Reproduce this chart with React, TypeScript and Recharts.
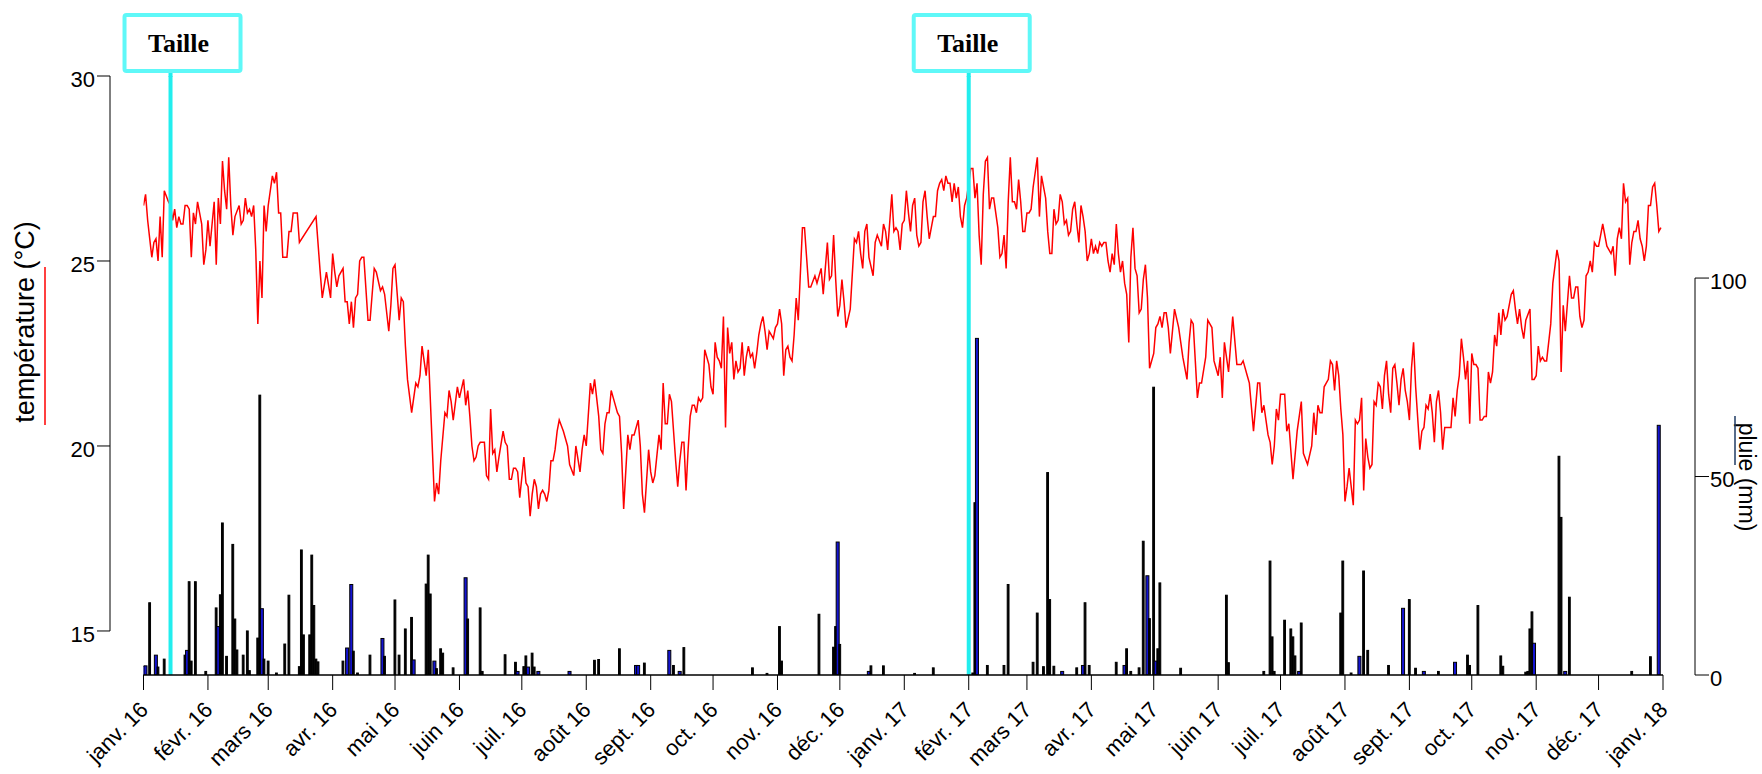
import { ComposedChart, Line, Bar, XAxis, YAxis, ReferenceLine } from 'recharts';

// x values are days counted from 1 Jan 2016
const monthLabels = [
  'janv. 16', 'févr. 16', 'mars 16', 'avr. 16', 'mai 16', 'juin 16', 'juil. 16', 'août 16',
  'sept. 16', 'oct. 16', 'nov. 16', 'déc. 16', 'janv. 17', 'févr. 17', 'mars 17', 'avr. 17',
  'mai 17', 'juin 17', 'juil. 17', 'août 17', 'sept. 17', 'oct. 17', 'nov. 17', 'déc. 17', 'janv. 18',
];
const monthTicks = monthLabels.map((_, i) => Math.round((Date.UTC(2016, i, 1) - Date.UTC(2016, 0, 1)) / 86400000));

const tempTicks = [15, 20, 25, 30];
const rainTicks = [0, 50, 100];

// pruning dates ("Taille")
const tailleDays = [13, 397];

// daily mean temperature (°C): [day, value]
const temperature: [number, number][] = [
  [0, 26.5], [1, 26.8], [2, 26.1], [3, 25.6], [4, 25.1], [5, 25.5], [6, 25.6], [7, 25.0], [8, 26.2], [9, 25.1],
  [10, 26.9], [12, 26.6], [13, 26.5], [14, 26.1], [15, 26.4], [16, 25.9], [17, 26.2], [18, 26.0], [19, 26.0], [20, 26.5],
  [21, 26.5], [22, 26.4], [23, 25.1], [24, 26.3], [25, 26.0], [26, 26.6], [28, 26.0], [29, 24.9], [30, 25.3], [31, 26.1],
  [32, 25.4], [34, 26.6], [35, 24.9], [36, 26.7], [37, 26.0], [38, 27.7], [39, 26.9], [40, 26.4], [41, 27.8], [42, 26.5],
  [43, 25.7], [44, 26.2], [46, 26.5], [47, 26.0], [48, 26.1], [49, 26.7], [50, 26.3], [51, 26.4], [52, 26.2], [53, 26.5],
  [54, 25.3], [55, 23.3], [56, 25.0], [57, 24.0], [58, 26.5], [59, 25.8], [60, 26.5], [62, 27.3], [63, 27.1], [64, 27.4],
  [65, 26.3], [66, 26.3], [67, 25.1], [69, 25.1], [70, 25.8], [71, 25.8], [72, 26.3], [73, 26.3], [74, 26.3], [75, 25.5],
  [83, 26.2], [85, 24.7], [86, 24.0], [88, 24.7], [90, 24.0], [91, 25.2], [92, 24.7], [93, 24.3], [94, 24.6], [96, 24.8],
  [97, 23.9], [98, 23.9], [99, 23.3], [100, 23.9], [101, 23.2], [102, 24.0], [103, 24.1], [104, 25.0], [105, 25.1], [106, 25.1],
  [108, 23.4], [109, 23.4], [110, 24.1], [111, 24.8], [112, 24.7], [114, 24.2], [115, 24.3], [116, 24.1], [118, 23.1], [119, 23.8],
  [120, 24.8], [121, 24.9], [123, 23.4], [124, 24.0], [125, 23.9], [126, 22.7], [127, 21.8], [129, 20.9], [131, 21.7], [132, 21.6],
  [133, 21.9], [134, 22.7], [136, 21.9], [137, 22.6], [140, 18.5], [141, 19.0], [142, 18.7], [143, 19.6], [145, 20.9], [146, 20.8],
  [147, 21.5], [148, 21.2], [149, 20.7], [151, 21.6], [152, 21.3], [154, 21.8], [155, 21.1], [156, 21.5], [157, 20.8], [158, 20.0],
  [159, 19.6], [160, 19.7], [161, 20.0], [162, 20.1], [164, 20.1], [165, 19.2], [166, 19.1], [167, 21.0], [168, 19.8], [169, 19.9],
  [170, 19.3], [171, 19.7], [173, 20.4], [174, 20.1], [175, 20.0], [176, 19.1], [177, 19.1], [178, 19.4], [179, 19.4], [180, 19.3],
  [181, 18.6], [183, 19.7], [184, 19.0], [185, 18.9], [186, 18.1], [187, 18.7], [188, 19.1], [189, 18.9], [190, 18.3], [191, 18.7],
  [192, 18.8], [193, 18.7], [194, 18.5], [195, 18.8], [196, 19.6], [197, 19.6], [198, 19.9], [199, 20.4], [200, 20.7], [202, 20.4],
  [204, 20.0], [205, 19.5], [207, 19.2], [208, 20.0], [210, 19.3], [211, 19.9], [212, 20.3], [213, 20.0], [215, 21.7], [216, 21.4],
  [217, 21.8], [218, 21.3], [219, 20.8], [220, 19.9], [221, 19.8], [222, 20.6], [223, 20.9], [224, 20.9], [225, 21.5], [226, 21.3],
  [228, 20.9], [229, 20.8], [230, 19.8], [231, 18.3], [233, 20.3], [234, 19.9], [235, 20.3], [236, 20.3], [238, 20.7], [239, 20.0],
  [240, 18.7], [241, 18.2], [243, 19.9], [244, 19.3], [245, 19.0], [246, 19.2], [248, 20.3], [249, 19.9], [250, 21.7], [251, 20.6],
  [252, 20.6], [253, 21.4], [254, 21.2], [256, 19.6], [257, 18.9], [258, 19.6], [259, 20.1], [260, 20.1], [261, 18.8], [262, 19.9],
  [263, 20.8], [264, 21.1], [265, 21.1], [266, 20.9], [267, 21.3], [268, 21.2], [269, 21.3], [270, 22.6], [272, 22.2], [273, 21.6],
  [274, 21.4], [275, 22.8], [276, 22.4], [277, 22.3], [278, 22.1], [279, 23.5], [280, 20.5], [281, 23.2], [282, 22.5], [283, 22.8],
  [284, 21.8], [285, 22.3], [286, 22.0], [287, 22.1], [288, 22.8], [289, 21.9], [290, 22.4], [291, 22.7], [292, 22.4], [293, 22.5],
  [294, 22.1], [295, 22.5], [296, 23.0], [297, 23.3], [298, 23.5], [299, 23.1], [300, 22.6], [301, 23.1], [302, 23.0], [303, 22.9],
  [304, 23.2], [305, 23.3], [306, 23.7], [307, 23.3], [308, 21.9], [309, 22.6], [310, 22.7], [311, 22.4], [312, 22.3], [313, 23.0],
  [314, 24.0], [315, 23.4], [317, 25.9], [318, 25.9], [319, 25.1], [320, 24.3], [321, 24.3], [323, 24.6], [324, 24.4], [326, 24.8],
  [327, 24.1], [328, 24.8], [329, 25.5], [330, 24.5], [331, 24.6], [332, 25.7], [333, 24.5], [334, 23.5], [335, 23.8], [336, 24.5],
  [337, 23.9], [338, 23.2], [340, 23.7], [342, 25.6], [343, 25.5], [344, 25.8], [345, 25.2], [346, 24.8], [347, 25.8], [348, 26.0],
  [349, 25.1], [351, 24.6], [352, 25.5], [353, 25.7], [355, 25.4], [356, 26.0], [357, 25.8], [358, 25.3], [360, 26.8], [361, 25.8],
  [362, 25.9], [363, 25.8], [364, 25.3], [365, 26.0], [366, 26.1], [367, 26.9], [368, 26.3], [369, 25.8], [370, 26.5], [371, 26.7],
  [372, 25.7], [373, 25.4], [374, 25.5], [375, 26.6], [376, 26.9], [377, 26.2], [378, 25.6], [379, 25.9], [380, 26.2], [381, 26.2],
  [382, 26.9], [383, 27.1], [384, 27.2], [385, 26.9], [386, 27.3], [387, 27.1], [388, 27.1], [389, 26.6], [390, 27.1], [391, 26.7],
  [392, 27.0], [393, 26.2], [394, 25.9], [395, 26.5], [396, 26.7], [398, 27.5], [399, 27.5], [400, 26.7], [401, 27.1], [402, 25.7],
  [403, 24.9], [404, 26.8], [405, 27.7], [406, 27.8], [407, 26.4], [408, 26.7], [409, 26.7], [411, 25.9], [412, 25.1], [413, 25.2],
  [414, 25.7], [415, 24.8], [416, 26.6], [417, 27.8], [418, 26.6], [419, 26.6], [420, 26.4], [421, 27.2], [422, 26.6], [423, 25.8],
  [424, 25.8], [425, 26.3], [426, 26.3], [427, 26.4], [428, 27.0], [430, 27.8], [431, 26.2], [432, 27.3], [434, 26.7], [435, 25.8],
  [436, 25.2], [437, 25.2], [438, 26.4], [439, 26.0], [440, 26.1], [441, 26.8], [442, 26.6], [443, 26.0], [444, 26.1], [445, 25.7],
  [446, 25.8], [447, 26.4], [448, 26.6], [449, 26.0], [450, 25.5], [451, 26.5], [452, 26.2], [453, 25.8], [454, 25.0], [455, 25.2],
  [456, 25.6], [457, 25.2], [458, 25.4], [459, 25.2], [460, 25.5], [461, 25.4], [462, 25.5], [463, 25.5], [464, 25.0], [465, 24.7],
  [466, 25.2], [467, 24.9], [468, 26.0], [469, 25.2], [470, 24.7], [471, 25.0], [472, 24.4], [473, 24.1], [474, 22.8], [475, 25.1],
  [476, 25.9], [477, 24.8], [478, 24.6], [479, 23.6], [480, 23.7], [481, 24.5], [482, 24.9], [483, 24.0], [484, 22.1], [486, 22.5],
  [487, 23.2], [488, 23.3], [489, 23.5], [490, 23.2], [491, 23.6], [492, 23.6], [493, 23.2], [494, 22.5], [496, 23.7], [498, 23.2],
  [500, 22.4], [502, 21.8], [503, 22.8], [504, 23.4], [505, 23.3], [506, 22.3], [507, 21.3], [508, 21.7], [509, 21.7], [511, 22.4],
  [512, 23.4], [513, 23.3], [514, 23.2], [515, 22.3], [516, 22.1], [517, 21.9], [518, 22.4], [519, 21.3], [520, 22.8], [521, 22.4],
  [522, 22.0], [524, 23.5], [526, 22.2], [528, 22.2], [529, 22.3], [531, 21.9], [532, 21.7], [534, 20.4], [536, 21.7], [537, 21.7],
  [538, 20.9], [539, 21.1], [541, 20.3], [542, 20.1], [543, 19.5], [544, 20.0], [545, 21.0], [546, 20.7], [547, 21.4], [549, 21.4],
  [550, 20.4], [551, 20.6], [553, 19.1], [555, 20.4], [557, 21.2], [558, 19.8], [560, 19.5], [562, 20.0], [563, 20.9], [564, 20.3],
  [565, 21.1], [566, 20.9], [567, 20.9], [568, 21.6], [570, 21.8], [571, 22.3], [572, 22.2], [573, 21.5], [574, 22.3], [575, 21.9],
  [576, 21.0], [577, 20.3], [578, 18.5], [579, 18.9], [580, 19.4], [582, 18.4], [583, 20.7], [584, 20.6], [585, 20.7], [586, 21.3],
  [587, 18.8], [588, 20.2], [589, 19.7], [590, 19.4], [591, 19.5], [592, 21.2], [593, 21.1], [594, 21.7], [595, 21.6], [596, 21.0],
  [597, 21.9], [598, 22.3], [599, 21.4], [600, 20.9], [601, 22.1], [602, 22.2], [603, 21.7], [604, 21.1], [605, 21.8], [606, 22.1],
  [607, 21.5], [608, 21.2], [609, 20.7], [610, 22.1], [611, 22.8], [612, 21.6], [614, 19.9], [615, 20.4], [616, 20.5], [617, 21.1],
  [618, 21.0], [619, 21.4], [620, 20.9], [621, 20.1], [622, 21.2], [623, 21.5], [624, 20.9], [625, 19.9], [626, 20.5], [627, 20.5],
  [628, 20.5], [629, 20.5], [630, 21.3], [631, 20.8], [632, 21.5], [633, 21.9], [634, 22.9], [635, 22.4], [636, 21.8], [637, 22.3],
  [638, 20.6], [639, 22.5], [640, 22.2], [641, 22.2], [642, 22.1], [643, 20.7], [644, 20.7], [645, 20.8], [646, 20.8], [647, 22.0],
  [648, 21.7], [649, 22.0], [650, 23.0], [651, 22.7], [652, 23.6], [653, 23.0], [654, 23.7], [655, 23.4], [656, 23.5], [658, 24.1],
  [659, 24.2], [660, 23.7], [661, 23.3], [662, 23.7], [663, 23.2], [664, 22.9], [665, 23.4], [667, 23.7], [668, 21.8], [669, 21.8],
  [670, 21.9], [671, 22.7], [672, 22.3], [673, 22.4], [674, 22.3], [675, 22.3], [677, 23.3], [678, 24.4], [680, 25.3], [681, 25.0],
  [682, 22.0], [683, 23.8], [684, 23.1], [686, 24.6], [687, 24.0], [688, 24.0], [689, 24.3], [690, 24.3], [691, 23.5], [692, 23.2],
  [693, 23.4], [694, 24.6], [695, 24.7], [696, 25.0], [697, 24.7], [698, 25.5], [699, 25.4], [700, 25.4], [701, 25.7], [702, 26.0],
  [704, 25.4], [705, 25.3], [706, 25.2], [707, 25.4], [708, 24.6], [709, 25.6], [710, 25.9], [711, 25.6], [712, 27.1], [713, 26.6],
  [714, 26.7], [715, 24.9], [716, 25.5], [717, 25.8], [718, 25.8], [719, 26.1], [720, 25.6], [721, 25.4], [722, 25.0], [723, 25.4],
  [724, 26.5], [725, 26.5], [726, 27.0], [727, 27.1], [728, 26.5], [729, 25.8], [730, 25.9],
];

// daily rainfall (mm): [day, value]
const rain: [number, number][] = [
  [0, 2.2], [1, 2.3], [3, 18.2], [6, 5.0], [7, 2.0], [10, 4.0], [13, 0.4], [20, 5.0], [21, 6.2], [22, 23.5],
  [23, 3.5], [25, 23.5], [30, 0.9], [35, 16.9], [36, 12.2], [37, 20.2], [38, 38.3], [40, 4.7], [43, 32.9], [44, 14.1],
  [45, 6.3], [48, 5.0], [50, 11.1], [51, 1.1], [55, 9.3], [56, 70.5], [57, 16.7], [58, 4.0], [60, 3.5], [64, 0.5],
  [68, 7.8], [70, 20.1], [75, 2.1], [76, 31.5], [77, 10.1], [80, 10.1], [81, 30.2], [82, 17.5], [83, 4.0], [84, 3.3],
  [96, 3.5], [98, 6.8], [100, 22.8], [101, 6.0], [103, 0.5], [109, 5.0], [115, 9.2], [116, 4.7], [121, 18.9], [123, 5.0],
  [126, 11.6], [129, 14.5], [130, 3.8], [136, 22.9], [137, 30.2], [138, 20.4], [140, 3.5], [141, 1.6], [143, 6.6], [144, 5.5],
  [149, 1.8], [155, 24.5], [156, 14.1], [162, 16.9], [163, 0.9], [174, 5.1], [179, 3.2], [180, 0.9], [183, 2.1], [184, 4.8],
  [185, 2.0], [187, 5.5], [188, 2.0], [190, 0.9], [205, 0.9], [217, 3.7], [219, 3.9], [229, 6.6], [237, 2.4], [238, 2.4],
  [241, 3.0], [253, 6.2], [255, 2.4], [258, 0.9], [260, 6.9], [293, 1.8], [300, 0.4], [306, 12.2], [307, 3.5], [325, 15.3],
  [332, 7.0], [333, 12.2], [334, 33.5], [335, 7.7], [349, 0.9], [350, 2.3], [356, 2.3], [371, 0.4], [380, 1.8], [399, 0.5],
  [400, 43.4], [401, 84.8], [406, 2.4], [414, 2.4], [416, 22.8], [428, 3.2], [430, 15.6], [433, 2.1], [435, 51.0], [436, 19.0],
  [438, 2.2], [442, 0.9], [449, 1.8], [452, 2.4], [453, 18.2], [455, 2.4], [468, 3.2], [472, 2.4], [473, 6.6], [475, 0.9],
  [479, 1.8], [481, 33.7], [483, 25.0], [484, 14.2], [486, 72.5], [487, 3.5], [488, 6.6], [489, 23.2], [499, 1.7], [521, 20.1],
  [522, 3.1], [539, 0.9], [542, 28.7], [543, 9.6], [544, 0.9], [549, 13.8], [552, 11.6], [553, 9.6], [554, 4.8], [556, 0.9],
  [557, 13.1], [576, 15.6], [577, 28.7], [581, 0.5], [585, 4.7], [587, 26.2], [589, 6.2], [599, 2.4], [606, 16.8], [609, 19.0],
  [612, 1.7], [616, 0.9], [623, 0.9], [631, 3.2], [637, 5.0], [638, 2.4], [642, 17.5], [653, 4.8], [654, 2.2], [665, 0.7],
  [666, 0.9], [667, 11.6], [668, 15.9], [669, 8.0], [681, 55.1], [682, 39.7], [684, 0.9], [686, 19.6], [716, 0.9], [725, 4.6],
  [729, 62.9],
];

// days whose rain bar is drawn in blue
const blueRainDays = [0, 1, 6, 21, 36, 57, 98, 100, 115, 130, 140, 155, 180, 185, 190, 205, 237, 238, 253, 258, 334, 349, 401, 442, 452, 472, 483, 487, 556, 585, 606, 616, 631, 669, 684, 729];

const tempMap = new Map(temperature);
const rainMap = new Map(rain);
const allDays = Array.from(new Set([...temperature.map((d) => d[0]), ...rain.map((d) => d[0])])).sort((a, b) => a - b);
const rows = allDays.map((day) => ({
  day,
  temp: tempMap.has(day) ? tempMap.get(day) : null,
  rain: rainMap.has(day) ? rainMap.get(day) : null,
}));

const W = 1762;
const H = 774;
const TOP = 76;
const X_AXIS_H = 99;
const LEFT_W = 110;
const RIGHT_W = 67;
const PAD_L = 33.5;
const PAD_R = 32;
const TEMP_MIN = 13.81;
const TEMP_MAX = 30;
const RAIN_MAX = 150.9;
const plotH = H - TOP - X_AXIS_H;
const plotW = W - LEFT_W - RIGHT_W;

const FONT = '"Liberation Sans", Arial, sans-serif';
const CYAN = '#22eeee';
const BLUE = '#1414d2';

const MonthTick = (props: any) => {
  const { x, y, payload } = props;
  const i = monthTicks.indexOf(payload.value);
  const ax = x + 6;
  const ay = y + 19;
  return (
    <text x={ax} y={ay} textAnchor="end" transform={`rotate(-45 ${ax} ${ay})`} fontSize={22} fontFamily={FONT} fill="#000">
      {monthLabels[i]}
    </text>
  );
};

const RainBar = (props: any) => {
  const { x, y, width, height, payload } = props;
  if (!height || height <= 0 || !payload) return null;
  const blue = blueRainDays.includes(payload.day);
  const w = blue ? 3 : 1.8;
  const cx = x + width / 2;
  return <rect x={cx - w / 2} y={y} width={w} height={height} fill={blue ? BLUE : '#000'} stroke="#000" strokeWidth={1} />;
};

const TailleBox = (props: any) => {
  const { viewBox, shift } = props;
  const lx = viewBox.x;
  const cx = lx + shift;
  return (
    <g>
      <line x1={lx} x2={lx} y1={72} y2={TOP + 1} stroke={CYAN} strokeWidth={4} />
      <rect x={cx - 58} y={15} width={116} height={56} rx={2} fill="#fff" stroke="#5ff8f8" strokeWidth={4} />
      <text x={cx - 4} y={52} textAnchor="middle" fontFamily='"Liberation Serif", "Times New Roman", serif' fontWeight="bold" fontSize={26} fill="#000">
        Taille
      </text>
    </g>
  );
};

const TempTitle = () => (
  <g>
    <text x={34} y={322} textAnchor="middle" transform="rotate(-90 34 322)" fontSize={27} fontFamily={FONT} fill="#000">
      température (°C)
    </text>
    <line x1={45} x2={45} y1={267} y2={425} stroke="#ff0000" strokeWidth={1.5} />
  </g>
);

const RainTitle = () => (
  <g>
    <text x={1739} y={477} textAnchor="middle" transform="rotate(90 1739 477)" fontSize={23} fontFamily={FONT} fill="#000">
      pluie (mm)
    </text>
    <line x1={1735} x2={1735} y1={416} y2={465} stroke="#1f3b63" strokeWidth={1.5} />
  </g>
);

const tailleShift = [12, 3];

export default function App() {
  const leftDash = `${(plotH * (TEMP_MAX - tempTicks[0])) / (TEMP_MAX - TEMP_MIN)} 2000`;
  const rainSpan = (plotH * rainTicks[rainTicks.length - 1]) / RAIN_MAX;
  const rightDash = `0 ${plotH - rainSpan} ${rainSpan + 10}`;
  const bottomDash = `0 ${PAD_L} ${plotW - PAD_L - PAD_R} 2000`;

  return (
    <div style={{ position: 'absolute', left: 0, top: 0, width: W, height: H, background: '#fff' }}>
      <ComposedChart width={W} height={H} data={rows} margin={{ top: TOP, right: 0, bottom: 0, left: 0 }}>
        <XAxis
          dataKey="day"
          type="number"
          domain={[0, 731]}
          ticks={monthTicks}
          interval={0}
          allowDataOverflow
          padding={{ left: PAD_L, right: PAD_R }}
          height={X_AXIS_H}
          tickSize={15}
          tickLine={{ stroke: '#000', strokeWidth: 1 }}
          axisLine={{ stroke: '#000', strokeWidth: 1.5, strokeDasharray: bottomDash }}
          tick={<MonthTick />}
        />
        <YAxis
          yAxisId="temp"
          orientation="left"
          width={LEFT_W}
          domain={[TEMP_MIN, TEMP_MAX]}
          ticks={tempTicks}
          allowDataOverflow
          tickSize={13}
          tickMargin={2}
          tickLine={{ stroke: '#000', strokeWidth: 1 }}
          axisLine={{ stroke: '#000', strokeWidth: 1, strokeDasharray: leftDash }}
          tick={{ fontSize: 22, fill: '#000', fontFamily: FONT, dy: 3 }}
          label={<TempTitle />}
        />
        <YAxis
          yAxisId="rain"
          orientation="right"
          width={RIGHT_W}
          domain={[0, RAIN_MAX]}
          ticks={rainTicks}
          allowDataOverflow
          tickSize={14}
          tickMargin={1}
          tickLine={{ stroke: '#000', strokeWidth: 1 }}
          axisLine={{ stroke: '#000', strokeWidth: 1, strokeDasharray: rightDash }}
          tick={{ fontSize: 22, fill: '#000', fontFamily: FONT, dy: 3 }}
          label={<RainTitle />}
        />
        <Bar yAxisId="rain" dataKey="rain" barSize={3} shape={<RainBar />} isAnimationActive={false} />
        <Line
          yAxisId="temp"
          dataKey="temp"
          type="linear"
          stroke="#ff0000"
          strokeWidth={1.5}
          dot={false}
          activeDot={false}
          connectNulls
          isAnimationActive={false}
        />
        {tailleDays.map((d, i) => (
          <ReferenceLine
            key={d}
            x={d}
            yAxisId="temp"
            stroke={CYAN}
            strokeWidth={4}
            ifOverflow="visible"
            label={<TailleBox shift={tailleShift[i]} />}
          />
        ))}
      </ComposedChart>
    </div>
  );
}
